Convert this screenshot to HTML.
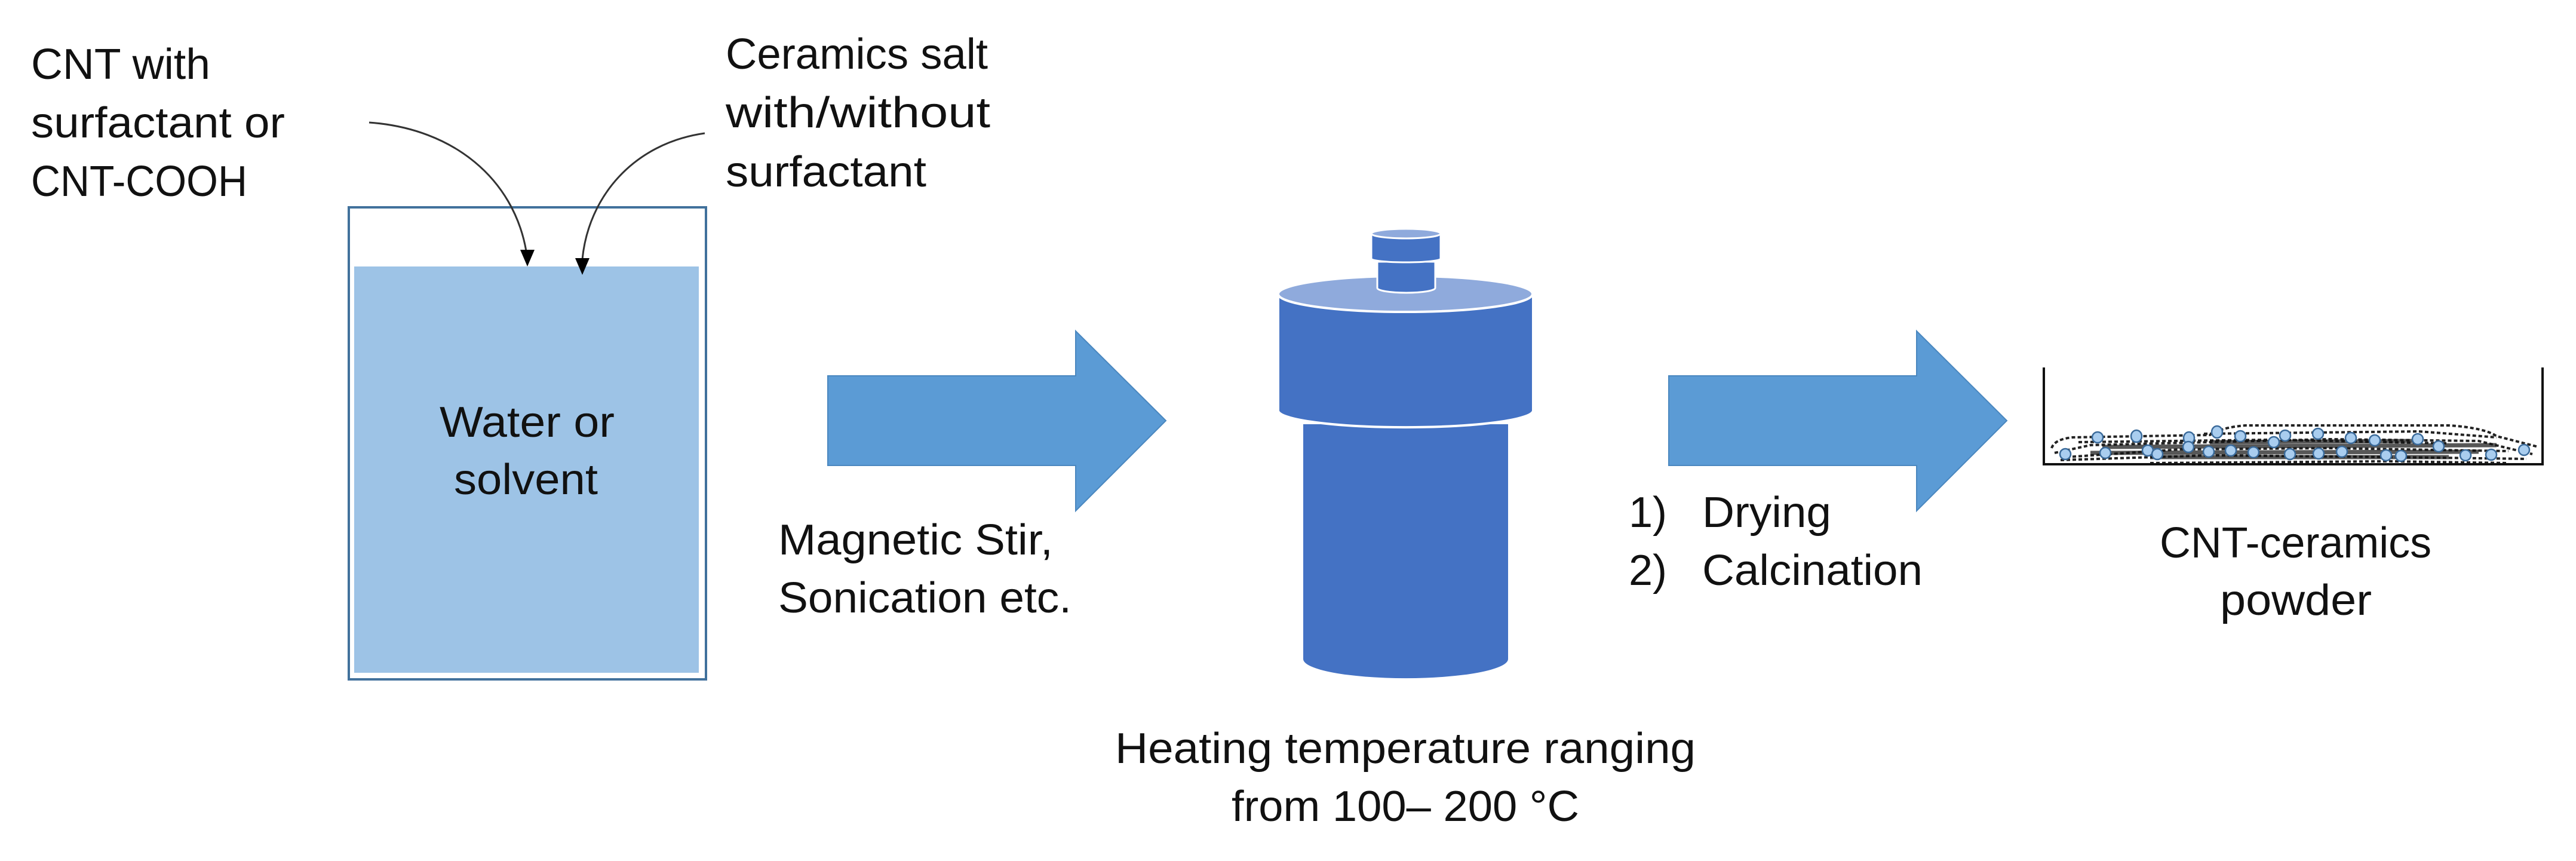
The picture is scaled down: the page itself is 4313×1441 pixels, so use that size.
<!DOCTYPE html>
<html><head><meta charset="utf-8"><style>
html,body{margin:0;padding:0;background:#fff;}
svg{display:block;}
text{font-family:"Liberation Sans",sans-serif;font-size:72px;fill:#111;}
</style></head><body>
<svg width="4313" height="1441" viewBox="0 0 4313 1441" xmlns="http://www.w3.org/2000/svg">
<!-- labels top -->
<text x="52" y="132" textLength="300" lengthAdjust="spacingAndGlyphs">CNT with</text>
<text x="52" y="230" textLength="425" lengthAdjust="spacingAndGlyphs">surfactant or</text>
<text x="52" y="328" textLength="362" lengthAdjust="spacingAndGlyphs">CNT-COOH</text>
<text x="1215" y="115" textLength="439" lengthAdjust="spacingAndGlyphs">Ceramics salt</text>
<text x="1215" y="213" textLength="443" lengthAdjust="spacingAndGlyphs">with/without</text>
<text x="1215" y="312" textLength="336" lengthAdjust="spacingAndGlyphs">surfactant</text>

<!-- beaker -->
<rect x="584" y="347" width="598" height="790" fill="none" stroke="#41719c" stroke-width="4"/>
<rect x="593" y="446" width="577" height="680" fill="#9dc3e6"/>
<text x="736" y="731" textLength="293" lengthAdjust="spacingAndGlyphs">Water or</text>
<text x="760" y="827" textLength="241" lengthAdjust="spacingAndGlyphs">solvent</text>

<!-- curved arrows -->
<path d="M618,205 C760,215 860,300 881,420" fill="none" stroke="#333" stroke-width="3"/>
<polygon points="871,418 895,418 883,446" fill="#000"/>
<path d="M1180,223 C1060,240 985,330 975,434" fill="none" stroke="#333" stroke-width="3"/>
<polygon points="963,432 987,432 975,460" fill="#000"/>

<!-- big arrow 1 -->
<polygon points="1386,629 1801,629 1801,554 1952,704 1801,855 1801,779 1386,779" fill="#5b9bd5" stroke="#4a87bf" stroke-width="2"/>
<text x="1303" y="928" textLength="460" lengthAdjust="spacingAndGlyphs">Magnetic Stir,</text>
<text x="1303" y="1025" textLength="491" lengthAdjust="spacingAndGlyphs">Sonication etc.</text>

<!-- vessel -->
<path d="M2182,710 L2182,1103 A171,32 0 0 0 2525,1103 L2525,710 Z" fill="#4472c4"/>
<path d="M2140,492 L2140,687 A213,28 0 0 0 2567,687 L2567,492 Z" fill="#4472c4" stroke="#fff" stroke-width="4"/>
<ellipse cx="2353" cy="492" rx="213" ry="30" fill="#8faadc" stroke="#fff" stroke-width="4"/>
<path d="M2306,438 L2306,482 A48.5,8 0 0 0 2403,482 L2403,438 Z" fill="#4472c4" stroke="#fff" stroke-width="3"/>
<path d="M2296,391 L2296,433 A58,6 0 0 0 2412,433 L2412,391 Z" fill="#4472c4" stroke="#fff" stroke-width="3"/>
<ellipse cx="2354" cy="391" rx="58" ry="8" fill="#8faadc" stroke="#fff" stroke-width="3"/>
<text x="1867" y="1277" textLength="972" lengthAdjust="spacingAndGlyphs">Heating temperature ranging</text>
<text x="2062" y="1374" textLength="582" lengthAdjust="spacingAndGlyphs">from 100– 200 °C</text>

<!-- big arrow 2 -->
<polygon points="2794,629 3209,629 3209,554 3360,704 3209,855 3209,779 2794,779" fill="#5b9bd5" stroke="#4a87bf" stroke-width="2"/>
<text x="2727" y="882">1)</text>
<text x="2850" y="882" textLength="216" lengthAdjust="spacingAndGlyphs">Drying</text>
<text x="2727" y="979">2)</text>
<text x="2850" y="979" textLength="369" lengthAdjust="spacingAndGlyphs">Calcination</text>

<!-- dish -->
<g fill="none" stroke="#222" stroke-width="4" stroke-dasharray="6,4">
<path d="M3435,750 Q3440,735 3470,732 L3700,728 Q3720,715 3760,712 L4100,712 Q4160,716 4180,730 L4250,748"/>
<path d="M3440,758 L3500,745 L3700,740 L3900,735 L4150,738 L4240,760"/>
<path d="M3460,765 L3650,752 L3900,750 L4200,755"/>
<path d="M3450,770 L3700,762 L4000,765 L4230,768"/>
<path d="M3690,726 L4050,722 L4180,732"/>
<path d="M3600,775 L4000,772 L4200,775"/>
<path d="M3480,740 L3800,736 L4100,742"/>
</g>
<g fill="none" stroke="#111" stroke-width="7" opacity="0.7">
<path d="M3520,748 L4180,745"/>
<path d="M3500,758 L4150,756"/>
<path d="M3600,765 L4100,765"/>
<path d="M3700,740 L4050,738"/>
</g>
<g fill="#a9cdef" stroke="#3a6a9a" stroke-width="2.5">
<ellipse cx="3458" cy="760" rx="9" ry="9"/>
<ellipse cx="3512" cy="732" rx="9" ry="9"/>
<ellipse cx="3525" cy="758" rx="9" ry="9"/>
<ellipse cx="3577" cy="730" rx="9" ry="10"/>
<ellipse cx="3596" cy="754" rx="9" ry="9"/>
<ellipse cx="3612" cy="760" rx="9" ry="9"/>
<ellipse cx="3665" cy="733" rx="9" ry="10"/>
<ellipse cx="3664" cy="748" rx="9" ry="9"/>
<ellipse cx="3698" cy="756" rx="9" ry="9"/>
<ellipse cx="3712" cy="723" rx="9" ry="10"/>
<ellipse cx="3735" cy="754" rx="9" ry="9"/>
<ellipse cx="3751" cy="730" rx="9" ry="9"/>
<ellipse cx="3773" cy="757" rx="9" ry="9"/>
<ellipse cx="3807" cy="740" rx="9" ry="9"/>
<ellipse cx="3826" cy="729" rx="9" ry="9"/>
<ellipse cx="3834" cy="760" rx="9" ry="9"/>
<ellipse cx="3881" cy="726" rx="9" ry="9"/>
<ellipse cx="3882" cy="759" rx="9" ry="9"/>
<ellipse cx="3921" cy="756" rx="9" ry="9"/>
<ellipse cx="3936" cy="733" rx="9" ry="9"/>
<ellipse cx="3976" cy="737" rx="9" ry="9"/>
<ellipse cx="3995" cy="762" rx="9" ry="9"/>
<ellipse cx="4020" cy="763" rx="9" ry="9"/>
<ellipse cx="4048" cy="735" rx="9" ry="9"/>
<ellipse cx="4083" cy="747" rx="9" ry="9"/>
<ellipse cx="4128" cy="762" rx="9" ry="9"/>
<ellipse cx="4171" cy="761" rx="9" ry="9"/>
<ellipse cx="4226" cy="753" rx="9" ry="9"/>
</g>
<path d="M3422,615 L3422,777 L4257,777 L4257,615" fill="none" stroke="#111" stroke-width="4"/>
<text x="3616" y="933" textLength="455" lengthAdjust="spacingAndGlyphs">CNT-ceramics</text>
<text x="3717" y="1029" textLength="254" lengthAdjust="spacingAndGlyphs">powder</text>
</svg>
</body></html>
